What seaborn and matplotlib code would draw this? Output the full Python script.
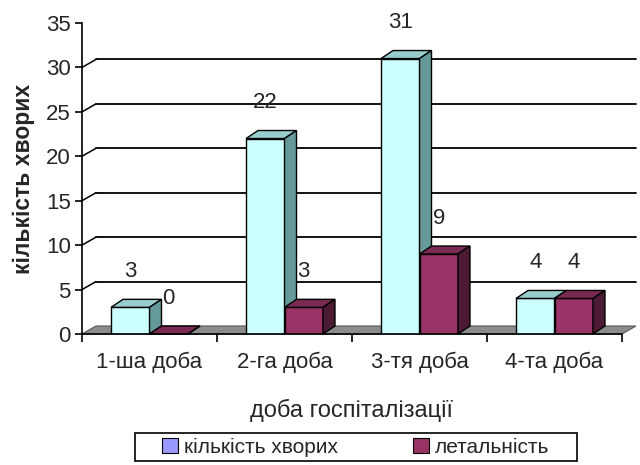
import pandas as pd
import matplotlib
matplotlib.use("Agg")
import matplotlib.pyplot as plt
import seaborn as sns
from matplotlib.patches import Polygon, Patch, Rectangle

# ---- data ----
categories = ["1-ша доба", "2-га доба", "3-тя доба", "4-та доба"]
patients = [3, 22, 31, 4]
deaths = [0, 3, 9, 4]
series_names = ["кількість хворих", "летальність"]
y_ticks = [0, 5, 10, 15, 20, 25, 30, 35]

# ---- colours (excel-like 3d columns) ----
front_colors = ["#CCFFFF", "#993366"]
top_colors = ["#99CCCC", "#7A2952"]
side_colors = ["#669999", "#4D1A33"]
legend_colors = ["#9999FF", "#993366"]

sns.set_style("white")
plt.rcParams["font.family"] = ["Liberation Sans", "DejaVu Sans"]

df = pd.DataFrame({
    "doba": categories * 2,
    "value": patients + deaths,
    "series": [series_names[0]] * len(categories) + [series_names[1]] * len(categories),
})

fig = plt.figure(figsize=(6.4, 4.65), dpi=100)
ax = fig.add_axes([82 / 640, 131 / 465, 540 / 640, 311 / 465])

sns.barplot(data=df, x="doba", y="value", hue="series", palette=front_colors,
            width=0.57, saturation=1, edgecolor="black", linewidth=1,
            legend=False, ax=ax)

ax.set_xlim(-0.5, 3.5)
ax.set_ylim(0, 35)

# depth of the fake 3d, pixels -> data units
bbox = ax.get_window_extent()
px_x = 4.0 / bbox.width
px_y = 35.0 / bbox.height
wall_dx, wall_dy = 14 * px_x, 8 * px_y
bar_dx, bar_dy = 12 * px_x, 8 * px_y

# floor
floor = Polygon([(-0.5, 0), (3.5, 0), (3.5 + wall_dx, wall_dy), (-0.5 + wall_dx, wall_dy)],
                closed=True, fc="#8C8C8C", ec="#555555", lw=0.8, zorder=1.5, clip_on=False)
ax.add_patch(floor)

# gridlines on back wall + diagonal connectors to the axis
for t in y_ticks[1:-1]:
    ax.plot([-0.5 + wall_dx, 3.5 + wall_dx], [t + wall_dy, t + wall_dy],
            color="black", lw=1.3, zorder=1, clip_on=False)
    ax.plot([-0.5, -0.5 + wall_dx], [t, t + wall_dy],
            color="black", lw=1.1, zorder=1, clip_on=False)

# 3d top/side faces + value labels
for ci, container in enumerate(ax.containers):
    for rect in container:
        x, w, h = rect.get_x(), rect.get_width(), rect.get_height()
        rect.set_zorder(3 + ci)
        top = Polygon([(x, h), (x + w, h), (x + w + bar_dx, h + bar_dy), (x + bar_dx, h + bar_dy)],
                      closed=True, fc=top_colors[ci], ec="black", lw=1,
                      zorder=3.5 + ci, clip_on=False)
        side = Polygon([(x + w, 0), (x + w + bar_dx, bar_dy), (x + w + bar_dx, h + bar_dy), (x + w, h)],
                       closed=True, fc=side_colors[ci], ec="black", lw=1,
                       zorder=3.5 + ci, clip_on=False)
        ax.add_patch(top)
        ax.add_patch(side)
        ax.annotate(f"{h:g}", (x + w / 2, h), xytext=(0, 36), textcoords="offset pixels",
                    ha="center", va="center", fontsize=16, zorder=6)

# axes styling
for s in ["top", "right"]:
    ax.spines[s].set_visible(False)
for s in ["left", "bottom"]:
    ax.spines[s].set_color("black")
    ax.spines[s].set_linewidth(1.2)
    ax.spines[s].set_zorder(5)

ax.set_yticks(y_ticks)
ax.tick_params(axis="y", direction="out", length=5, width=1.2, color="black",
               labelsize=16, pad=3, left=True)
ax.set_xticks(range(len(categories)))
ax.set_xticklabels(categories)
ax.set_xticks([-0.5, 0.5, 1.5, 2.5, 3.5], minor=True)
ax.tick_params(axis="x", which="major", length=0, labelsize=16, pad=13)
ax.tick_params(axis="x", which="minor", direction="out", length=6, width=1.2,
               color="black", bottom=True)

ax.set_xlabel("доба госпіталізації", fontsize=17, labelpad=18)
ax.set_ylabel("кількість хворих", fontsize=16.5, fontweight="bold", labelpad=8)

# legend: entries without frame, box drawn separately (wider padding like excel)
handles = [Patch(fc=c, ec="black", lw=0.8) for c in legend_colors]
leg = fig.legend(handles, series_names, loc="center", bbox_to_anchor=(356 / 640, 1 - 447 / 465),
                 ncol=2, frameon=False, fontsize=15,
                 handlelength=0.75, handleheight=0.75, handletextpad=0.3,
                 columnspacing=3.6, borderpad=0.2, borderaxespad=0)
fig.patches.append(Rectangle((135 / 640, 1 - 461 / 465), 442 / 640, 28 / 465,
                             transform=fig.transFigure, fc="white", ec="black",
                             lw=1.2, zorder=0))

fig.savefig("out.png", dpi=100)
